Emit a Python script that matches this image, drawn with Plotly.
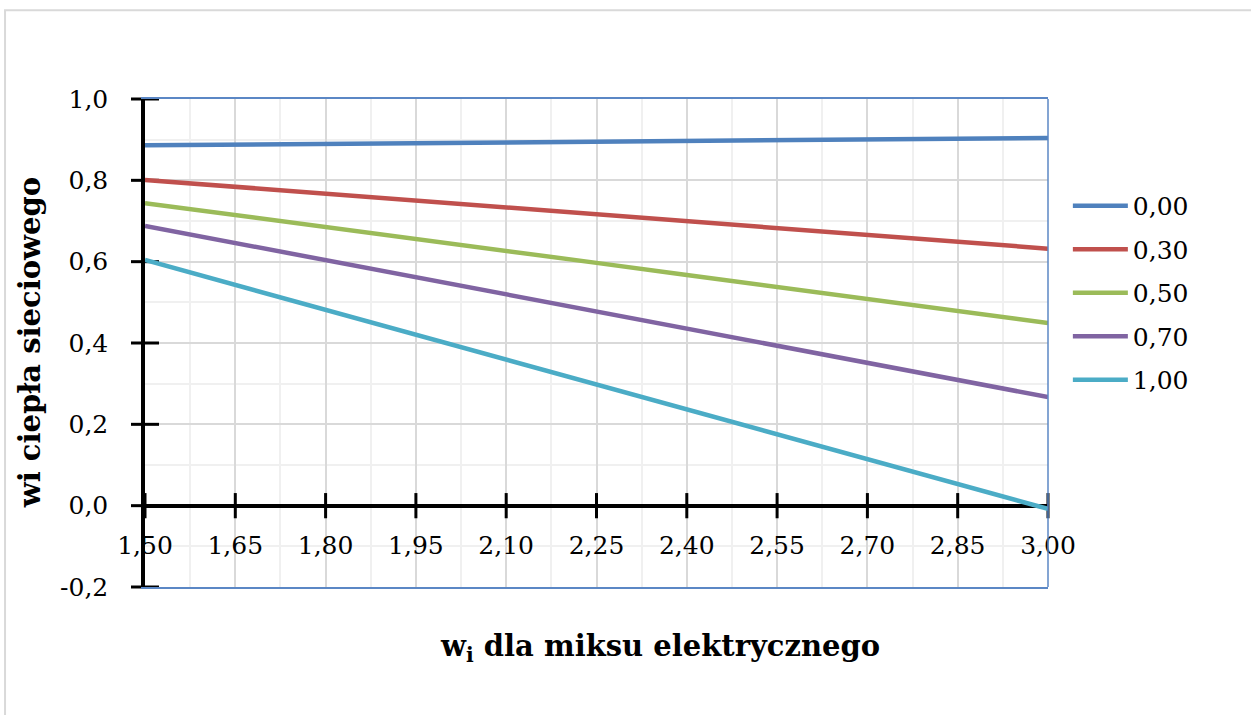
import plotly.graph_objects as go

x_vals = [1.50, 1.65, 1.80, 1.95, 2.10, 2.25, 2.40, 2.55, 2.70, 2.85, 3.00]
x_labels = ["1,50", "1,65", "1,80", "1,95", "2,10", "2,25", "2,40", "2,55", "2,70", "2,85", "3,00"]
y_ticks = [-0.2, 0.0, 0.2, 0.4, 0.6, 0.8, 1.0]
y_labels = ["-0,2", "0,0", "0,2", "0,4", "0,6", "0,8", "1,0"]

series_names = ["0,00", "0,30", "0,50", "0,70", "1,00"]
s_000 = [0.886, 0.888, 0.889, 0.891, 0.893, 0.895, 0.897, 0.899, 0.900, 0.902, 0.904]
s_030 = [0.801, 0.784, 0.767, 0.751, 0.734, 0.717, 0.701, 0.684, 0.667, 0.650, 0.632]
s_050 = [0.744, 0.715, 0.685, 0.656, 0.626, 0.597, 0.567, 0.538, 0.508, 0.479, 0.449]
s_070 = [0.688, 0.646, 0.604, 0.562, 0.520, 0.478, 0.435, 0.393, 0.351, 0.309, 0.267]
s_100 = [0.604, 0.543, 0.482, 0.420, 0.359, 0.298, 0.237, 0.176, 0.114, 0.053, -0.008]
series = [s_000, s_030, s_050, s_070, s_100]
colors = ["#4F81BD", "#C0504D", "#9BBB59", "#8064A2", "#4BACC6"]

FONT = "DejaVu Serif"
TICK_SIZE = 25
TITLE_SIZE = 29
BORDER = "#5B87C5"

fig = go.Figure()

# crossing tick marks on y axis
fig.add_trace(go.Scatter(x=[x_vals[0]] * len(y_ticks), y=y_ticks, mode="markers",
                         marker=dict(symbol="line-ew", size=20, line=dict(color="black", width=3)),
                         showlegend=False, hoverinfo="skip", cliponaxis=False))
# crossing tick marks on x axis (at y = 0)
fig.add_trace(go.Scatter(x=x_vals, y=[0] * len(x_vals), mode="markers",
                         marker=dict(symbol="line-ns", size=18, line=dict(color="black", width=3)),
                         showlegend=False, hoverinfo="skip", cliponaxis=False))
# x tick labels just below the zero line
fig.add_trace(go.Scatter(x=x_vals, y=[-0.103] * len(x_vals), mode="text", text=x_labels,
                         textfont=dict(family=FONT, size=TICK_SIZE, color="black"),
                         showlegend=False, hoverinfo="skip", cliponaxis=False))

for i, (name, vals, col) in enumerate(zip(series_names, series, colors)):
    fig.add_trace(go.Scatter(x=x_vals, y=vals, mode="lines", name=name,
                             line=dict(color=col, width=4.5), legendgroup=f"g{i}",
                             cliponaxis=False))

fig.update_layout(
    width=1251, height=715,
    margin=dict(l=145, r=203, t=99, b=128),
    paper_bgcolor="white", plot_bgcolor="white",
    font=dict(family=FONT, size=TICK_SIZE, color="black"),
    showlegend=True,
    legend=dict(x=1.022, y=0.828, xanchor="left", yanchor="top",
                font=dict(family=FONT, size=TICK_SIZE, color="black"),
                tracegroupgap=8, traceorder="grouped", itemwidth=55),
    xaxis=dict(range=[1.5, 3.0], tick0=1.5, dtick=0.15, showticklabels=False, ticks="",
               showgrid=True, gridcolor="#d9d9d9", gridwidth=1.5,
               minor=dict(dtick=0.075, showgrid=True, gridcolor="#f0f0f0", gridwidth=1.5),
               showline=True, linecolor=BORDER, linewidth=1.5, mirror=True,
               zeroline=False),
    yaxis=dict(range=[-0.2, 1.0], tickvals=y_ticks, ticktext=y_labels, ticks="",
               ticklabelstandoff=28,
               tickfont=dict(family=FONT, size=TICK_SIZE, color="black"),
               showgrid=True, gridcolor="#d9d9d9", gridwidth=1.5,
               minor=dict(dtick=0.1, showgrid=True, gridcolor="#f0f0f0", gridwidth=1.5),
               showline=True, linecolor="black", linewidth=3.5, mirror=False,
               zeroline=True, zerolinecolor="black", zerolinewidth=3.5),
    annotations=[
        dict(text="<b>w<sub>i</sub> dla miksu elektrycznego</b>", xref="paper", yref="paper",
             x=0.57, y=-0.125, xanchor="center", yanchor="middle", showarrow=False,
             font=dict(family=FONT, size=TITLE_SIZE, color="black")),
        dict(text="<b>wi ciepła sieciowego</b>", xref="paper", yref="paper",
             x=-0.127, y=0.5, xanchor="center", yanchor="middle", showarrow=False,
             textangle=-90, font=dict(family=FONT, size=TITLE_SIZE, color="black")),
    ],
    shapes=[
        dict(type="rect", xref="paper", yref="paper", x0=-0.155, x1=1.3, y0=-0.4, y1=1.182,
             line=dict(color="#d9d9d9", width=2), fillcolor="rgba(0,0,0,0)", layer="below"),
        dict(type="line", xref="paper", yref="paper", x0=1, x1=1, y0=0, y1=1,
             line=dict(color=BORDER, width=1.5), layer="above"),
    ],
)

fig.write_html("out.html")
